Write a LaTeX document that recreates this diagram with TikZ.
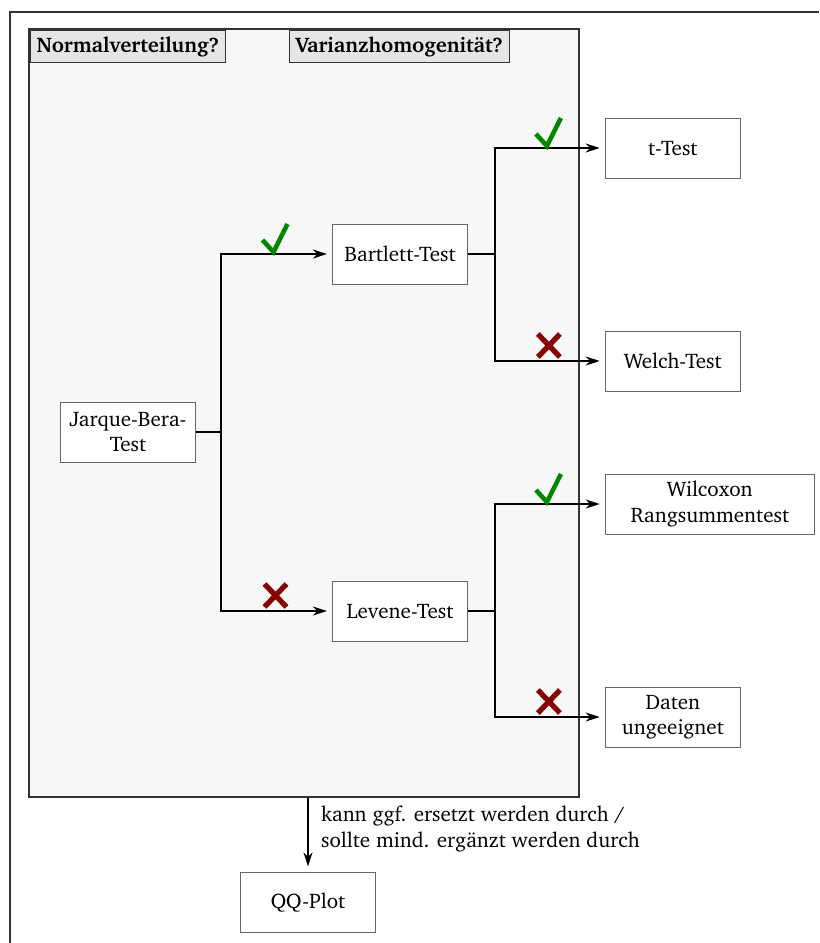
\documentclass[12pt,tikz,border=0pt]{standalone}
\usepackage[T1]{fontenc}
\usepackage{charter}
\usetikzlibrary{arrows.meta,positioning}
\definecolor{jagruen}{RGB}{0,135,0}
\definecolor{neinrot}{RGB}{135,0,0}
\tikzset{
	testbox/.style={draw=black!60, fill=white, minimum width=2.7cm, minimum height=1.2cm, align=center},
	kopfbox/.style={draw=black!80, fill=black!10, font=\bfseries, minimum height=0.64cm, inner xsep=3.5pt, inner ysep=2pt, anchor=north west},
	panel/.style={draw=black!80, fill=black!3, line width=0.8pt, minimum width=11cm, minimum height=15.36cm},
	pfeil/.style={line width=1pt, -{Stealth[length=2.8mm,width=1.8mm]}, shorten >=3pt},
	ja/.pic={\draw[jagruen, line width=2.6pt] (-14,-14) -- (-3,-2) -- (11,-30);},
	nein/.pic={\draw[neinrot, line width=3pt] (-12,-27) -- (10,-4) (-12,-4) -- (10,-27);}
}

\begin{document}
\begin{tikzpicture}[x=0.02cm, y=-0.02cm]
		\useasboundingbox (0,0) rectangle (819,943);
		\draw[line width=1.2pt, black!80] (10,943) -- (10,12) -- (819,12);

		\node[panel] (rahmen) at (304,413) {};
		\node[kopfbox] (kopf1) at (30,30) {Normalverteilung?};
		\node[kopfbox] (kopf2) at (289,30) {Varianzhomogenit\"at?};

		\node[testbox] (jb) at (128,432) {Jarque-Bera-\\Test};
		\node[testbox] (bart) at (400,254) {Bartlett-Test};
		\node[testbox] (lev) at (400,611) {Levene-Test};

		\node[testbox, anchor=west] (ttest) at (605,148) {t-Test};
		\node[testbox, anchor=west] (welch) at (605,361) {Welch-Test};
		\node[testbox, anchor=west, minimum width=4.18cm] (wil) at (605,504) {Wilcoxon\\Rangsummentest};
		\node[testbox, anchor=west] (daten) at (605,717) {Daten\\ungeeignet};

		\node[testbox] (qq) at (308,902) {QQ-Plot};

		\draw[pfeil] (jb.east) -- ++(25,0) |- coordinate[pos=0.75] (m1) (bart.west);
		\draw[pfeil] (jb.east) -- ++(25,0) |- coordinate[pos=0.75] (m2) (lev.west);
		\draw[pfeil] (bart.east) -- ++(27,0) |- coordinate[pos=0.75] (m3) (ttest.west);
		\draw[pfeil] (bart.east) -- ++(27,0) |- coordinate[pos=0.75] (m4) (welch.west);
		\draw[pfeil] (lev.east) -- ++(27,0) |- coordinate[pos=0.75] (m5) (wil.west);
		\draw[pfeil] (lev.east) -- ++(27,0) |- coordinate[pos=0.75] (m6) (daten.west);

		\pic at (m1) {ja};
		\pic at (m2) {nein};
		\pic at (m3) {ja};
		\pic at (m4) {nein};
		\pic at (m5) {ja};
		\pic at (m6) {nein};

		\draw[pfeil] (rahmen.south -| qq.north) -- node[right, align=left, pos=0.42, xshift=3pt] {kann ggf. ersetzt werden durch /\\sollte mind. erg\"anzt werden durch} (qq.north);

	\end{tikzpicture}
\end{document}
